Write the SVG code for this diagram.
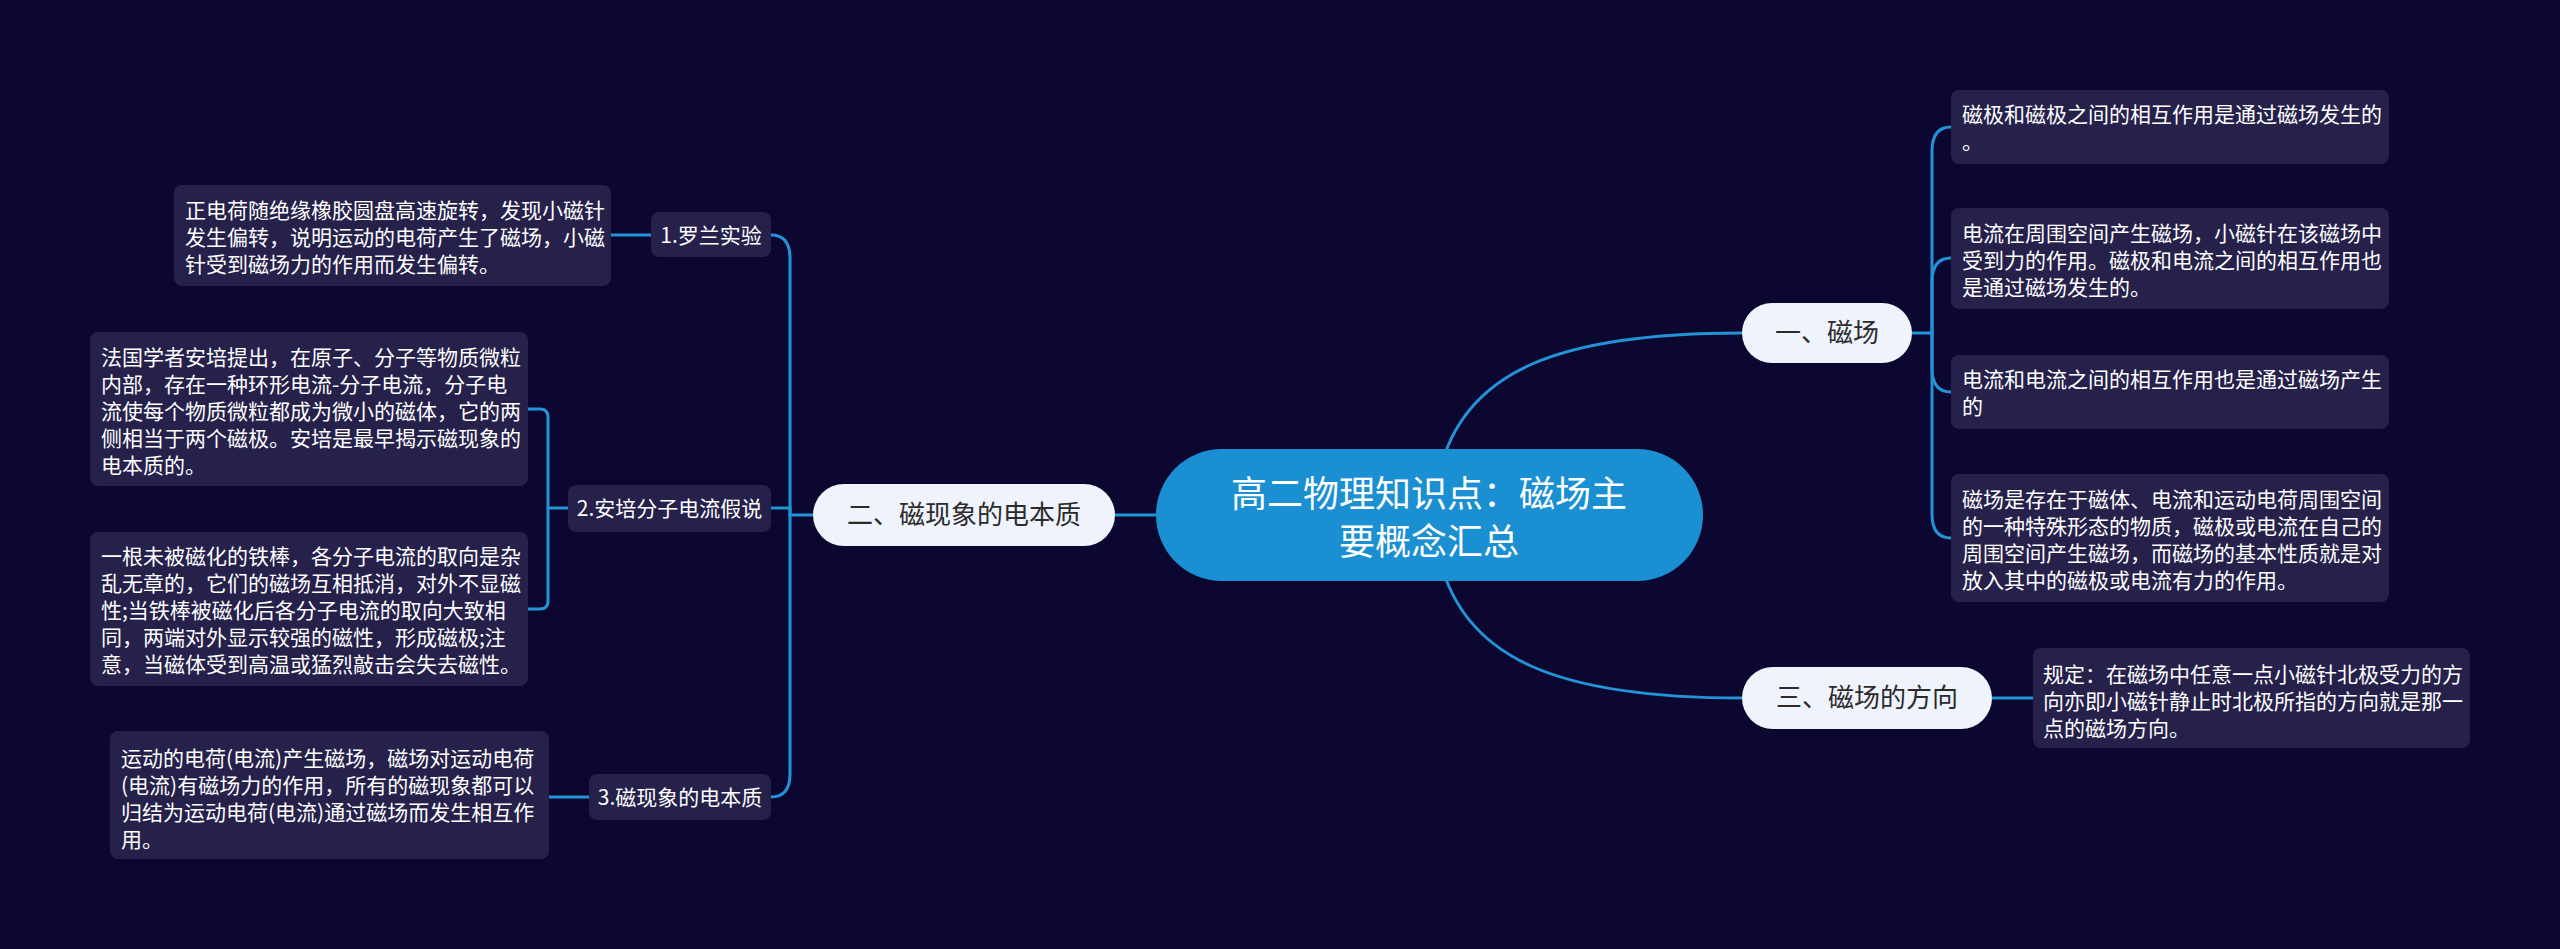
<svg xmlns="http://www.w3.org/2000/svg" width="2560" height="949" viewBox="0 0 2560 949">
<style>
text{font-family:"Noto Sans CJK SC","Noto Sans",sans-serif;}
.leaf rect{fill:#25214b;}
.leaf text{fill:#ffffff;font-size:21px;}
.sub rect{fill:#25214b;}
.sub text{fill:#ffffff;font-size:21px;text-anchor:middle;}
.main rect{fill:#eef3fc;}
.main text{fill:#2b2b2b;font-size:26px;text-anchor:middle;}
.center rect{fill:#1a8fd2;}
.center text{fill:#ffffff;font-size:36px;text-anchor:middle;}
.conn path{fill:none;stroke:#2393d6;stroke-width:3;stroke-linecap:round;}
</style>
<rect width="2560" height="949" fill="#0b0731"/>
<g id="connectors" class="conn">
<path d="M1440,470 C1465,370 1560,333 1742,333"/>
<path d="M1440,560 C1465,660 1560,698 1742,698"/>
<path d="M1156,515 H1115"/>
<path d="M1912,333 H1932 V151 Q1932,127 1951,127"/>
<path d="M1932,333 V282 Q1932,258 1951,258"/>
<path d="M1932,333 V368 Q1932,392 1951,392"/>
<path d="M1932,333 V514 Q1932,538 1951,538"/>
<path d="M1992,698 H2033"/>
<path d="M813,515 H790 V258 Q790,235 771,235"/>
<path d="M790,515 V508 H771"/>
<path d="M790,515 V774 Q790,797 771,797"/>
<path d="M651,235 H611"/>
<path d="M568,508 H548 V417 Q548,409 540,409 H528"/>
<path d="M548,508 V601 Q548,609 540,609 H528"/>
<path d="M589,797 H549"/>
</g>
<g id="center" class="center">
<rect x="1156" y="449" width="547" height="132" rx="66"/>
<text x="1429" y="507">高二物理知识点：磁场主</text>
<text x="1429" y="555">要概念汇总</text>
</g>
<g id="n1" class="main">
<rect x="1742" y="303" width="170" height="60" rx="30"/>
<text x="1827" y="342">一、磁场</text>
</g>
<g id="n2" class="main">
<rect x="813" y="484" width="302" height="62" rx="31"/>
<text x="964" y="524">二、磁现象的电本质</text>
</g>
<g id="n3" class="main">
<rect x="1742" y="667" width="250" height="62" rx="31"/>
<text x="1867" y="707">三、磁场的方向</text>
</g>
<g id="r1" class="leaf">
<rect x="1951" y="90" width="438" height="74" rx="8"/>
<text x="1962" y="122">磁极和磁极之间的相互作用是通过磁场发生的</text>
<text x="1962" y="149">。</text>
</g>
<g id="r2" class="leaf">
<rect x="1951" y="208" width="438" height="101" rx="8"/>
<text x="1962" y="241">电流在周围空间产生磁场，小磁针在该磁场中</text>
<text x="1962" y="268">受到力的作用。磁极和电流之间的相互作用也</text>
<text x="1962" y="295">是通过磁场发生的。</text>
</g>
<g id="r3" class="leaf">
<rect x="1951" y="355" width="438" height="74" rx="8"/>
<text x="1962" y="387">电流和电流之间的相互作用也是通过磁场产生</text>
<text x="1962" y="414">的</text>
</g>
<g id="r4" class="leaf">
<rect x="1951" y="474" width="438" height="128" rx="8"/>
<text x="1962" y="507">磁场是存在于磁体、电流和运动电荷周围空间</text>
<text x="1962" y="534">的一种特殊形态的物质，磁极或电流在自己的</text>
<text x="1962" y="561">周围空间产生磁场，而磁场的基本性质就是对</text>
<text x="1962" y="588">放入其中的磁极或电流有力的作用。</text>
</g>
<g id="r5" class="leaf">
<rect x="2033" y="648" width="437" height="100" rx="8"/>
<text x="2043" y="682">规定：在磁场中任意一点小磁针北极受力的方</text>
<text x="2043" y="709">向亦即小磁针静止时北极所指的方向就是那一</text>
<text x="2043" y="736">点的磁场方向。</text>
</g>
<g id="s1" class="sub">
<rect x="651" y="212" width="120" height="45" rx="8"/>
<text x="711" y="243">1.罗兰实验</text>
</g>
<g id="s2" class="sub">
<rect x="568" y="485" width="203" height="47" rx="8"/>
<text x="669.5" y="516">2.安培分子电流假说</text>
</g>
<g id="s3" class="sub">
<rect x="589" y="774" width="182" height="46" rx="8"/>
<text x="680" y="805">3.磁现象的电本质</text>
</g>
<g id="l1" class="leaf">
<rect x="174" y="185" width="437" height="101" rx="8"/>
<text x="185" y="218">正电荷随绝缘橡胶圆盘高速旋转，发现小磁针</text>
<text x="185" y="245">发生偏转，说明运动的电荷产生了磁场，小磁</text>
<text x="185" y="272">针受到磁场力的作用而发生偏转。</text>
</g>
<g id="l2" class="leaf">
<rect x="90" y="332" width="438" height="154" rx="8"/>
<text x="101" y="365">法国学者安培提出，在原子、分子等物质微粒</text>
<text x="101" y="392">内部，存在一种环形电流-分子电流，分子电</text>
<text x="101" y="419">流使每个物质微粒都成为微小的磁体，它的两</text>
<text x="101" y="446">侧相当于两个磁极。安培是最早揭示磁现象的</text>
<text x="101" y="473">电本质的。</text>
</g>
<g id="l3" class="leaf">
<rect x="90" y="532" width="438" height="154" rx="8"/>
<text x="101" y="564">一根未被磁化的铁棒，各分子电流的取向是杂</text>
<text x="101" y="591">乱无章的，它们的磁场互相抵消，对外不显磁</text>
<text x="101" y="618">性;当铁棒被磁化后各分子电流的取向大致相</text>
<text x="101" y="645">同，两端对外显示较强的磁性，形成磁极;注</text>
<text x="101" y="672">意，当磁体受到高温或猛烈敲击会失去磁性。</text>
</g>
<g id="l4" class="leaf">
<rect x="110" y="731" width="439" height="128" rx="8"/>
<text x="121" y="766">运动的电荷(电流)产生磁场，磁场对运动电荷</text>
<text x="121" y="793">(电流)有磁场力的作用，所有的磁现象都可以</text>
<text x="121" y="820">归结为运动电荷(电流)通过磁场而发生相互作</text>
<text x="121" y="847">用。</text>
</g>
</svg>
